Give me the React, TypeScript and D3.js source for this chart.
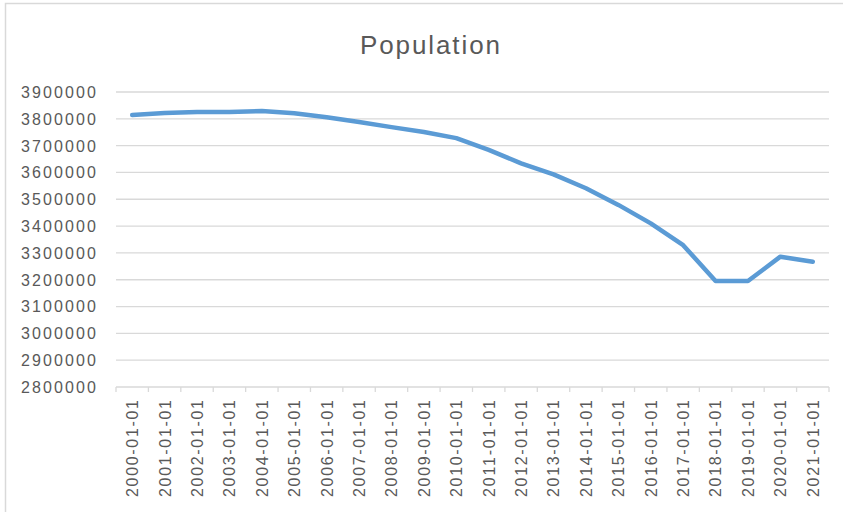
import React from "react";
import * as d3 from "d3";

const categories = [
  "2000-01-01","2001-01-01","2002-01-01","2003-01-01","2004-01-01","2005-01-01",
  "2006-01-01","2007-01-01","2008-01-01","2009-01-01","2010-01-01","2011-01-01",
  "2012-01-01","2013-01-01","2014-01-01","2015-01-01","2016-01-01","2017-01-01",
  "2018-01-01","2019-01-01","2020-01-01","2021-01-01",
];
const population = [
  3814000, 3822000, 3825000, 3825000, 3829000, 3821000,
  3806000, 3788000, 3769000, 3751000, 3728000, 3684000,
  3634000, 3593000, 3541000, 3479000, 3410000, 3329000,
  3195000, 3195000, 3286000, 3267000,
];
const yTicks = [2800000, 2900000, 3000000, 3100000, 3200000, 3300000, 3400000, 3500000, 3600000, 3700000, 3800000, 3900000];

const W = 843, H = 512;
const left = 116, right = 829, top = 92, bottom = 387;

export default function App() {
  const x = d3.scaleBand<string>().domain(categories).range([left, right]);
  const y = d3.scaleLinear().domain([2800000, 3900000]).range([bottom, top]);
  const line = d3.line<number>()
    .x((_, i) => (x(categories[i]) as number) + x.bandwidth() / 2)
    .y((d) => y(d));
  const font = "'Liberation Sans', Arial, sans-serif";
  const col = "#595959";
  return (
    <svg width={W} height={H} style={{ position: "absolute", left: 0, top: 0, background: "#fff" }}>
      <rect x={0} y={0} width={W} height={H} fill="#fff" />
      <rect x={5.5} y={3.5} width={W + 10} height={H + 10} fill="none" stroke="#d9d9d9" strokeWidth={1.5} />
      <text x={430} y={54} textAnchor="middle" fontFamily={font} fontSize={26} fill={col} textLength={140} lengthAdjust="spacing">Population</text>
      {yTicks.map((t) => (
        <g key={t}>
          {t !== 2800000 && (
            <line x1={left} x2={right} y1={y(t)} y2={y(t)} stroke="#d9d9d9" strokeWidth={1.3} />
          )}
          <text x={96} y={y(t)} dy="0.37em" textAnchor="end" fontFamily={font} fontSize={16} fill={col} textLength={75} lengthAdjust="spacing">{t}</text>
        </g>
      ))}
      <line x1={left} x2={right} y1={bottom} y2={bottom} stroke="#d9d9d9" strokeWidth={1.3} />
      {categories.map((c, i) => (
        <line key={"t" + i} x1={x(c) as number} x2={x(c) as number} y1={bottom} y2={bottom + 5} stroke="#d9d9d9" strokeWidth={1.3} />
      ))}
      <line x1={right} x2={right} y1={bottom} y2={bottom + 5} stroke="#d9d9d9" strokeWidth={1.3} />
      {categories.map((c) => {
        const cx = (x(c) as number) + x.bandwidth() / 2;
        return (
          <text key={c} transform={`translate(${cx},400) rotate(-90)`} textAnchor="end" dy="0.37em" fontFamily={font} fontSize={16} fill={col} textLength={97} lengthAdjust="spacing">{c}</text>
        );
      })}
      <path d={line(population) || ""} fill="none" stroke="#5B9BD5" strokeWidth={4.5} strokeLinejoin="round" strokeLinecap="round" />
    </svg>
  );
}
